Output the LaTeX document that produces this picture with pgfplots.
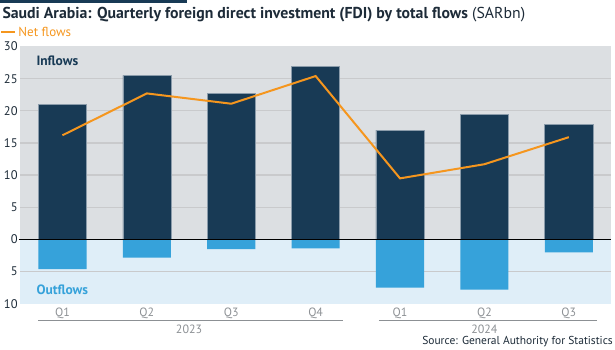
\documentclass[border=0pt]{standalone}
\usepackage{pgfplots}
\pgfplotsset{compat=1.18}
\usepackage{fontspec}
\setmainfont{PT Sans}
\definecolor{navy}{HTML}{183A55}
\definecolor{titlecol}{HTML}{1D2B38}
\definecolor{outblue}{HTML}{36A2DA}
\definecolor{netorange}{HTML}{F5961E}
\definecolor{bggrey}{HTML}{DCDFE2}
\definecolor{bgblue}{HTML}{DFEEF8}
\definecolor{gridcol}{HTML}{C9CACC}
\definecolor{labgrey}{HTML}{8C9094}
\definecolor{barline}{HTML}{8A9BAA}
\pgfplotstableread{
x in out net
0 21.0 -4.6 16.2
1 25.5 -2.8 22.7
2 22.7 -1.5 21.1
3 26.9 -1.4 25.4
4 17.0 -7.5 9.5
5 19.4 -7.8 11.7
6 17.9 -2.0 15.9
}\datatable
\begin{document}
\begin{tikzpicture}
\begin{axis}[
  width=591pt, height=257.5pt, scale only axis,
  xmin=-0.5, xmax=6.5, ymin=-10, ymax=30,
  axis line style={draw=none},
  major tick length=0pt,
  clip=false,
  xtick={0,...,6},
  xticklabels={Q1,Q2,Q3,Q4,Q1,Q2,Q3},
  xticklabel style={text=labgrey, font=\fontsize{12}{13}\selectfont, inner sep=0pt, anchor=north, yshift=-4pt},
  ytick={-5,5,10,15,20,25},
  yticklabels={5,5,10,15,20,25},
  extra y ticks={-10,0,30},
  extra y tick labels={10,0,30},
  yticklabel style={text=titlecol, font=\fontsize{12.5}{13}\selectfont, inner sep=0pt, anchor=east, xshift=-2.5pt},
  /pgf/number format/assume math mode=true,
]
\path (axis cs:-0.7368,-17.11) rectangle (axis cs:6.5474,37.22);
\fill[navy] (axis cs:-0.7368,36.75) rectangle (axis cs:1.478,37.22);
\node[anchor=west, inner sep=0pt, text=titlecol, font=\fontsize{15.8}{17}\selectfont] at (axis cs:-0.713,34.9) {\textbf{Saudi Arabia: Quarterly foreign direct investment (FDI) by total flows} (SARbn)};
\draw[netorange, line width=2.5pt] (axis cs:-0.7255,32.25) -- (axis cs:-0.5595,32.25);
\node[anchor=west, inner sep=0pt, text=netorange, font=\fontsize{13}{14}\selectfont] at (axis cs:-0.5237,32.3) {Net flows};
\node[anchor=east, inner sep=0pt, text=titlecol, font=\fontsize{11.5}{12}\selectfont] at (axis cs:6.524,-15.9) {Source: General Authority for Statistics};
\fill[bggrey] (axis cs:-0.5,0) rectangle (axis cs:6.5,30);
\fill[bgblue] (axis cs:-0.5,-10) rectangle (axis cs:6.5,0);
\pgfplotsinvokeforeach{-5,5,10,15,20,25}{\draw[gridcol, line width=1.3pt] (axis cs:-0.5,#1) -- (axis cs:6.5,#1);}
\addplot[ybar, bar shift=0pt, bar width=0.57, fill=navy, draw=barline, line width=0.6pt] table[x=x, y=in] {\datatable};
\addplot[ybar, bar shift=0pt, bar width=0.57, fill=outblue, draw=none] table[x=x, y=out] {\datatable};
\draw[black, line width=1.8pt] (axis cs:-0.52,0) -- (axis cs:6.5,0);
\addplot[netorange, line width=2pt, mark=none] table[x=x, y=net] {\datatable};
\node[anchor=west, inner sep=0pt, text=navy, font=\bfseries\fontsize{13.5}{15}\selectfont] at (axis cs:-0.31,27.7) {Inflows};
\node[anchor=west, inner sep=0pt, text=outblue, font=\bfseries\fontsize{13.5}{15}\selectfont] at (axis cs:-0.31,-7.8) {Outflows};
\draw[labgrey, line width=0.8pt] (axis cs:-0.29,-12.6) -- (axis cs:3.32,-12.6);
\draw[labgrey, line width=0.8pt] (axis cs:3.75,-12.6) -- (axis cs:6.33,-12.6);
\node[text=labgrey, font=\fontsize{12}{13}\selectfont, inner sep=0pt] at (axis cs:1.5,-14.0) {2023};
\node[text=labgrey, font=\fontsize{12}{13}\selectfont, inner sep=0pt] at (axis cs:5,-14.0) {2024};
\end{axis}
\end{tikzpicture}
\end{document}
